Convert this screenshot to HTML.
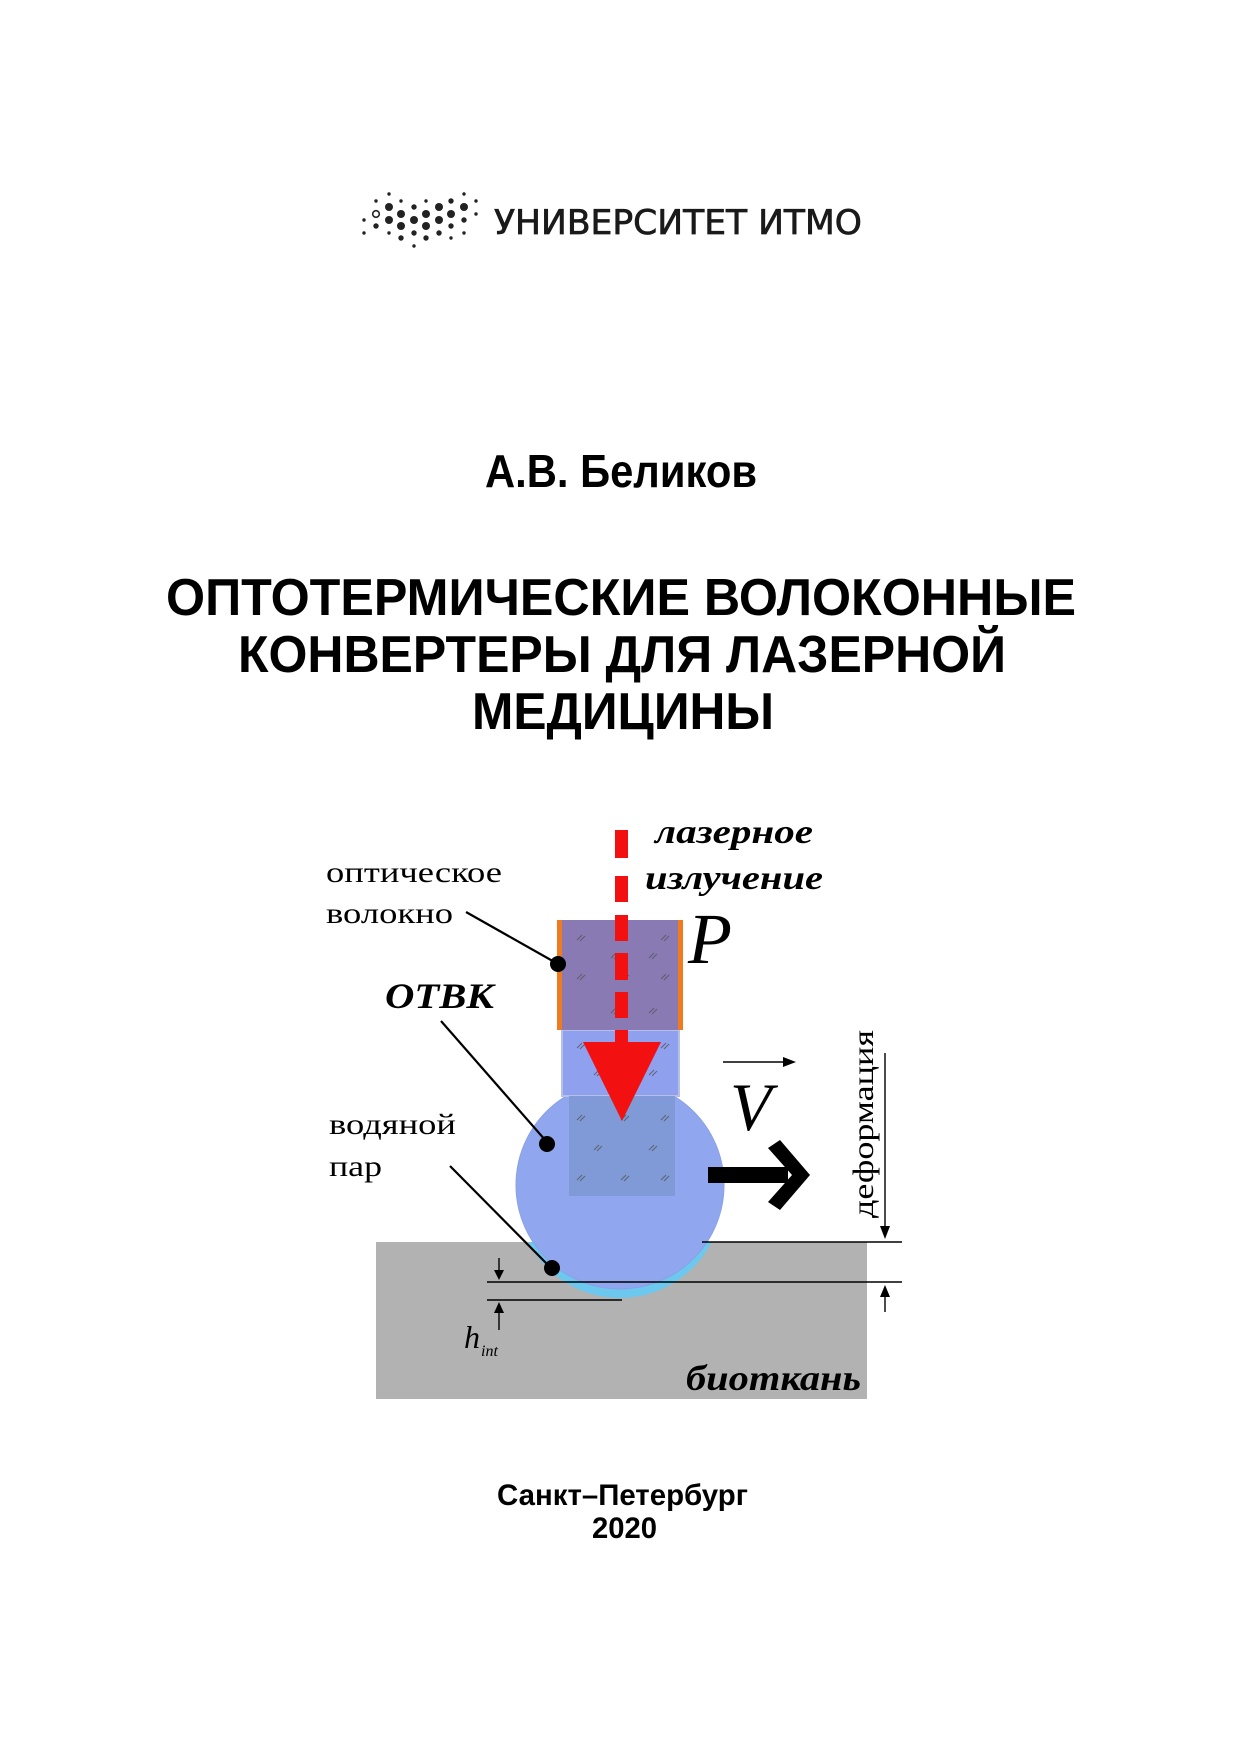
<!DOCTYPE html>
<html><head><meta charset="utf-8"><style>html,body{margin:0;padding:0;background:#fff}svg{display:block}</style></head>
<body>
<svg width="1241" height="1754" viewBox="0 0 1241 1754" xmlns="http://www.w3.org/2000/svg">
<rect width="1241" height="1754" fill="#fff"/>
<g fill="#222">
<circle cx="364" cy="220" r="1.7"/><circle cx="364" cy="233" r="1.7"/>
<circle cx="376" cy="201" r="1.7"/><circle cx="376" cy="214" r="3.3" fill="none" stroke="#222" stroke-width="1.6"/><circle cx="376" cy="226" r="2.7"/>
<circle cx="389" cy="194" r="1.7"/><circle cx="389" cy="207" r="4"/><circle cx="389" cy="220" r="4"/><circle cx="389" cy="233" r="1.7"/>
<circle cx="401" cy="201" r="1.7"/><circle cx="401" cy="214" r="4"/><circle cx="401" cy="226" r="4"/><circle cx="401" cy="238" r="2.7"/>
<circle cx="414" cy="207" r="2.7"/><circle cx="414" cy="220" r="4"/><circle cx="414" cy="233" r="2.7"/><circle cx="414" cy="246" r="1.7"/>
<circle cx="426" cy="201" r="1.7"/><circle cx="426" cy="214" r="4"/><circle cx="426" cy="226" r="4"/><circle cx="426" cy="238" r="2.7"/>
<circle cx="439" cy="207" r="4"/><circle cx="439" cy="220" r="4"/><circle cx="439" cy="233" r="2.7"/>
<circle cx="451" cy="201" r="2.7"/><circle cx="451" cy="214" r="4"/><circle cx="451" cy="226" r="2.7"/><circle cx="451" cy="238" r="1.7"/>
<circle cx="464" cy="194" r="1.7"/><circle cx="464" cy="207" r="4"/><circle cx="464" cy="220" r="2.7"/><circle cx="464" cy="233" r="1.7"/>
<circle cx="476" cy="201" r="1.7"/><circle cx="476" cy="214" r="1.7"/>
</g>
<text x="494" y="234" font-family="DejaVu Sans, Liberation Sans, sans-serif" font-size="34" textLength="368" lengthAdjust="spacingAndGlyphs" fill="#1a1a1a" stroke="#1a1a1a" stroke-width="0.7">УНИВЕРСИТЕТ ИТМО</text>
<g font-family="Liberation Sans, sans-serif" font-weight="bold" fill="#000">
<text x="485" y="487" font-size="46" textLength="272" lengthAdjust="spacingAndGlyphs">А.В. Беликов</text>
<text x="166" y="615" font-size="52" textLength="910" lengthAdjust="spacingAndGlyphs">ОПТОТЕРМИЧЕСКИЕ ВОЛОКОННЫЕ</text>
<text x="238" y="672" font-size="52" textLength="768" lengthAdjust="spacingAndGlyphs">КОНВЕРТЕРЫ ДЛЯ ЛАЗЕРНОЙ</text>
<text x="472" y="729" font-size="52" textLength="302" lengthAdjust="spacingAndGlyphs">МЕДИЦИНЫ</text>
<text x="497" y="1505" font-size="30" textLength="251" lengthAdjust="spacingAndGlyphs">Санкт–Петербург</text>
<text x="592" y="1538" font-size="30" textLength="65" lengthAdjust="spacingAndGlyphs">2020</text>
</g>
<rect x="376" y="1242" width="491" height="157" fill="#b2b2b2"/>
<defs><clipPath id="below"><rect x="376" y="1242" width="491" height="100"/></clipPath></defs>
<circle cx="620" cy="1195" r="103" fill="#6cc8ee" clip-path="url(#below)"/>
<circle cx="620" cy="1185" r="104" fill="#90a6ee" stroke="#8aa0e6" stroke-width="1"/>
<rect x="562" y="1030" width="117" height="66" fill="#8fa0ee" stroke="#b8bfe6" stroke-width="2"/>
<rect x="569" y="1096" width="106" height="100" fill="#7f9ad6"/>
<rect x="557" y="920" width="126" height="110" fill="#f07a20"/>
<rect x="562" y="920" width="116" height="110" fill="#8a7ab4"/>
<g stroke="#555" stroke-width="1" opacity="0.8">
<path d="M577 940l5-5M580 941l5-5M611 958l5-5M614 959l5-5M649 958l5-5M652 959l5-5M661 940l5-5M664 941l5-5M577 979l5-5M580 980l5-5M621 979l5-5M624 980l5-5M661 979l5-5M664 980l5-5M611 1013l5-5M614 1014l5-5M649 1013l5-5M652 1014l5-5M577 1048l5-5M580 1049l5-5M661 1048l5-5M664 1049l5-5M594 1075l5-5M597 1076l5-5M649 1075l5-5M652 1076l5-5M577 1120l5-5M580 1121l5-5M621 1120l5-5M624 1121l5-5M661 1120l5-5M664 1121l5-5M594 1150l5-5M597 1151l5-5M649 1150l5-5M652 1151l5-5M577 1180l5-5M580 1181l5-5M621 1180l5-5M624 1181l5-5M661 1180l5-5M664 1181l5-5"/>
</g>
<g fill="#f21010">
<rect x="615" y="830" width="13" height="28"/><rect x="615" y="876" width="13" height="26"/><rect x="615" y="915" width="13" height="26"/><rect x="615" y="953" width="13" height="27"/><rect x="615" y="992" width="13" height="26"/><rect x="615" y="1030" width="13" height="14"/>
<polygon points="583,1042 661,1042 622,1121"/>
</g>
<g stroke="#000" stroke-width="2.2" fill="none">
<line x1="466" y1="912" x2="558" y2="964"/>
<line x1="441" y1="1021" x2="546" y2="1141"/>
<line x1="450" y1="1166" x2="551" y2="1268"/>
</g>
<circle cx="558" cy="964" r="8" fill="#000"/>
<circle cx="547" cy="1144" r="8" fill="#000"/>
<circle cx="552" cy="1268" r="8" fill="#000"/>
<g stroke="#000" stroke-width="1.4" fill="none">
<line x1="702" y1="1242" x2="902" y2="1242"/>
<line x1="487" y1="1282" x2="902" y2="1282"/>
<line x1="487" y1="1300" x2="622" y2="1300"/>
<line x1="499" y1="1258" x2="499" y2="1272"/>
<line x1="499" y1="1312" x2="499" y2="1330"/>
<line x1="885" y1="1053" x2="885" y2="1228"/>
<line x1="885" y1="1296" x2="885" y2="1312"/>
<line x1="723" y1="1062" x2="785" y2="1062"/>
</g>
<g fill="#000">
<polygon points="494,1270 504,1270 499,1280"/>
<polygon points="494,1313 504,1313 499,1302"/>
<polygon points="880,1226 890,1226 885,1239"/>
<polygon points="880,1297 890,1297 885,1285"/>
<polygon points="783,1057 796,1062 783,1067"/>
<rect x="708" y="1167" width="80" height="16"/>
<polygon points="768,1148 780,1140 810,1175 780,1210 768,1202 792,1175"/>
</g>
<g font-family="Liberation Serif, serif" fill="#000">
<text x="326" y="882" font-size="30" textLength="176" lengthAdjust="spacingAndGlyphs">оптическое</text>
<text x="326" y="923" font-size="30" textLength="127" lengthAdjust="spacingAndGlyphs">волокно</text>
<text x="329" y="1134" font-size="30" textLength="127" lengthAdjust="spacingAndGlyphs">водяной</text>
<text x="329" y="1176" font-size="30" textLength="53" lengthAdjust="spacingAndGlyphs">пар</text>
<g font-style="italic" font-weight="bold">
<text x="655" y="843" font-size="34" textLength="158" lengthAdjust="spacingAndGlyphs">лазерное</text>
<text x="645" y="889" font-size="34" textLength="178" lengthAdjust="spacingAndGlyphs">излучение</text>
<text x="385" y="1008" font-size="36" textLength="109" lengthAdjust="spacingAndGlyphs">ОТВК</text>
<text x="686" y="1390" font-size="36" textLength="175" lengthAdjust="spacingAndGlyphs">биоткань</text>
</g>
<g font-style="italic">
<text x="688" y="963" font-size="72">P</text>
<text x="730" y="1130" font-size="68">V</text>
<text x="464" y="1348" font-size="32">h</text>
<text x="481" y="1356" font-size="16">int</text>
</g>
<text transform="translate(873,1218) rotate(-90)" font-size="30" textLength="188" lengthAdjust="spacingAndGlyphs">деформация</text>
</g>
</svg>
</body></html>
